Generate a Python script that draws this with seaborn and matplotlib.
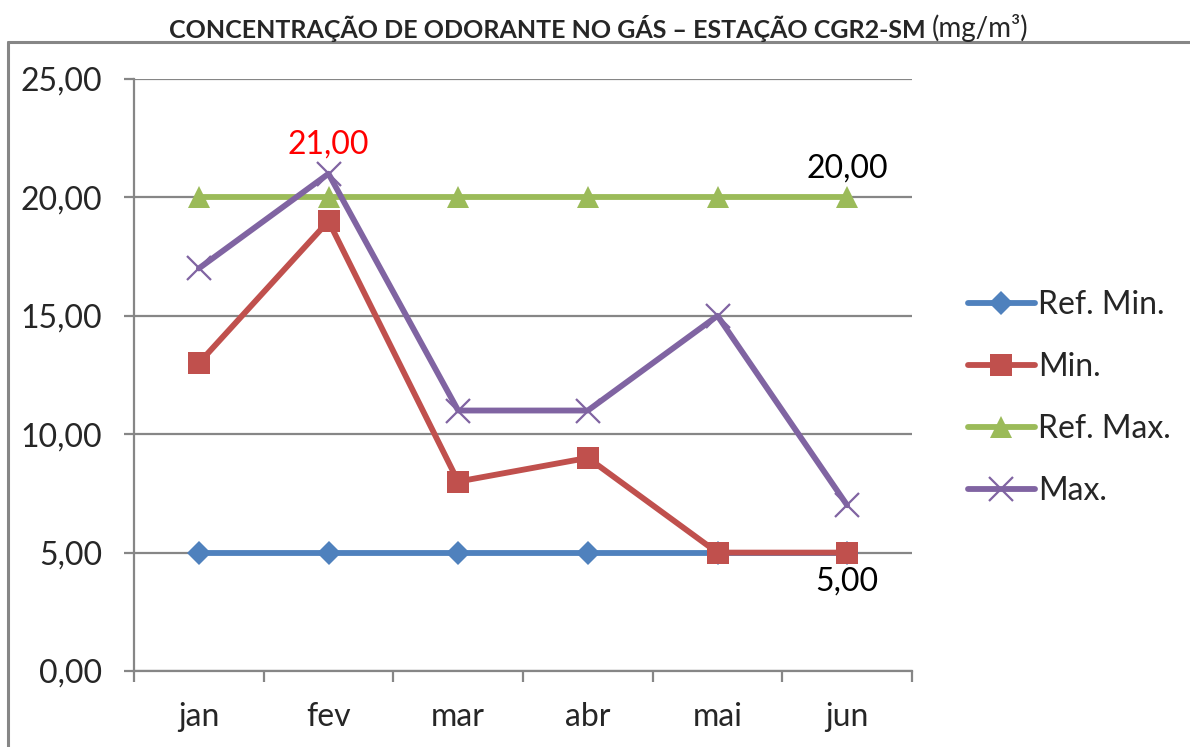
import numpy as np
import pandas as pd

import matplotlib
matplotlib.use('Agg')
import matplotlib.pyplot as plt
import seaborn as sns

months = ['jan', 'fev', 'mar', 'abr', 'mai', 'jun']
ref_min = [5, 5, 5, 5, 5, 5]
v_min = [13, 19, 8, 9, 5, 5]
ref_max = [20, 20, 20, 20, 20, 20]
v_max = [17, 21, 11, 11, 15, 7]
yticks = [0, 5, 10, 15, 20, 25]

sns.set_style('white')
plt.rcParams['font.family'] = ['Lato', 'DejaVu Sans']

fig = plt.figure(figsize=(11.9, 7.47), dpi=100)
ax = fig.add_axes([134/1190, 1-671/747, (912-134)/1190, (671-79)/747])

x = np.arange(len(months))
series = [
    ('Ref. Min.', ref_min, '#4F81BD', 'D', 12),
    ('Min.', v_min, '#C0504D', 's', 16),
    ('Ref. Max.', ref_max, '#9BBB59', '^', 16),
    ('Max.', v_max, '#8064A2', 'x', 17),
]
for name, vals, col, mk, ms in series:
    df = pd.DataFrame({'mes': x, 'valor': vals})
    sns.lineplot(data=df, x='mes', y='valor', ax=ax, color=col, lw=4.2,
                 marker=mk, markersize=ms, markeredgecolor=col,
                 markeredgewidth=1.6 if mk == 'x' else 0, label=name)

ax.set_xlim(-0.5, len(months)-0.5)
ax.set_ylim(0, 25)
ax.set_yticks(yticks)
ax.set_yticklabels([('%.2f' % v).replace('.', ',') for v in yticks])
ax.set_xticks(x)
ax.set_xticklabels(months)
ax.set_xticks(np.arange(-0.5, len(months)), minor=True)
ax.set_xlabel('')
ax.set_ylabel('')
ax.grid(axis='y', color='#868686', lw=1.6)
ax.set_axisbelow(True)

gray = '#868686'
for s in ['top', 'right']:
    ax.spines[s].set_visible(False)
for s in ['left', 'bottom']:
    ax.spines[s].set_color(gray)
    ax.spines[s].set_linewidth(1.6)
ax.tick_params(axis='y', length=7, width=1.6, color=gray, pad=16, labelsize=23, left=True)
ax.tick_params(axis='x', which='major', length=0, pad=22, labelsize=23)
ax.tick_params(axis='x', which='minor', length=8, width=1.6, color=gray, bottom=True)

# data labels
ax.annotate('21,00', (1, v_max[1]), xytext=(0, 21), textcoords='offset points',
            ha='center', va='center', color='red', fontsize=23)
ax.annotate('20,00', (5, ref_max[5]), xytext=(0, 21), textcoords='offset points',
            ha='center', va='center', color='black', fontsize=23)
ax.annotate('5,00', (5, v_min[5]), xytext=(0, -21), textcoords='offset points',
            ha='center', va='center', color='black', fontsize=23)

ax.legend(loc='center left', bbox_to_anchor=(955/1190, 1-398/747), bbox_transform=fig.transFigure,
          frameon=False, fontsize=23, handlelength=2.1, handletextpad=0.1,
          labelspacing=1.0, borderaxespad=0)

# outer chart frame
fig.add_artist(plt.Line2D([8/1190, 1.0], [1-42/747, 1-42/747], color=gray, lw=2.2))
fig.add_artist(plt.Line2D([8/1190, 8/1190], [0, 1-42/747], color=gray, lw=2.2))

# title
fig.text(926/1190, 1-28/747, 'CONCENTRAÇÃO DE ODORANTE NO GÁS – ESTAÇÃO CGR2-SM',
         ha='right', va='center', fontsize=18, fontweight='bold')
fig.text(932/1190, 1-28/747, '(mg/m³)', ha='left', va='center', fontsize=20)

fig.savefig('out.png', dpi=100)
